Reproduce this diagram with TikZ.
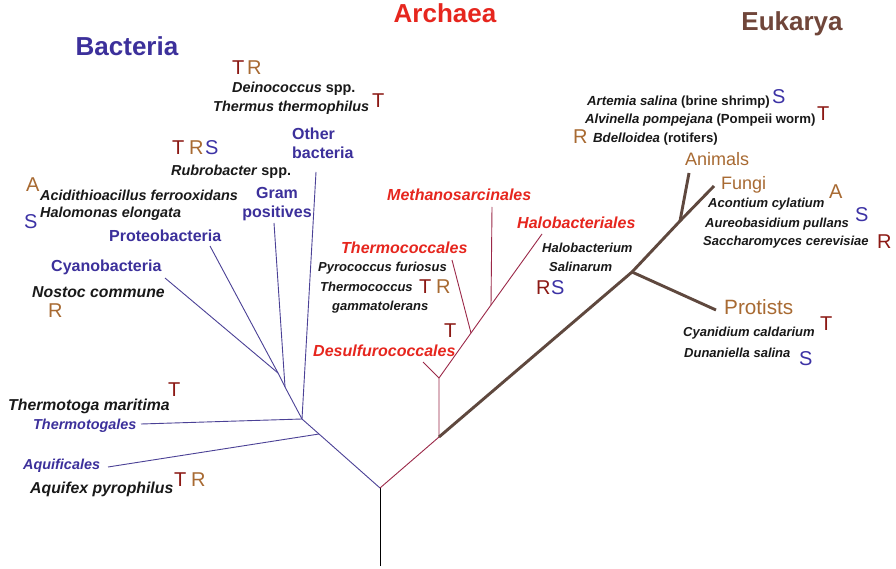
\documentclass[tikz,border=0pt]{standalone}
\usepackage{fontspec}
\setmainfont{Liberation Sans}
\definecolor{bacblue}{RGB}{60,48,155}
\definecolor{bacline}{RGB}{75,65,150}
\definecolor{arcred}{RGB}{230,38,30}
\definecolor{arcline}{RGB}{155,40,72}
\definecolor{euktitle}{RGB}{112,70,58}
\definecolor{eukline}{RGB}{95,72,62}
\definecolor{lbrown}{RGB}{168,106,50}
\definecolor{tred}{RGB}{140,25,20}
\definecolor{sblue}{RGB}{60,50,165}
\definecolor{spblack}{RGB}{25,25,25}
\begin{document}
\begin{tikzpicture}[x=1pt,y=-1pt,
  lab/.style={inner sep=0pt, anchor=base west},
  sp/.style={lab, font=\fontsize{14.4}{16}\selectfont\bfseries\itshape, text=spblack},
  spL/.style={lab, font=\fontsize{15.8}{18}\selectfont\bfseries\itshape, text=spblack},
  spS/.style={lab, font=\fontsize{13}{15}\selectfont\bfseries\itshape, text=spblack},
  spE/.style={lab, font=\fontsize{13.2}{15}\selectfont\bfseries\itshape, text=spblack},
  grp/.style={lab, font=\fontsize{16}{18}\selectfont\bfseries, text=bacblue},
  bord/.style={lab, font=\fontsize{14.4}{16}\selectfont\bfseries\itshape, text=bacblue},
  ord/.style={lab, font=\fontsize{16}{18}\selectfont\bfseries\itshape, text=arcred},
  egrp/.style={lab, text=lbrown},
  letter/.style={lab, font=\fontsize{20}{20}\selectfont},
  lt/.style={letter, text=tred},
  lr/.style={letter, text=lbrown},
  ls/.style={letter, text=sblue},
  title/.style={inner sep=0pt, anchor=base, font=\fontsize{26}{28}\selectfont\bfseries},
  bline/.style={draw=bacline, line width=0.9pt},
  aline/.style={draw=arcline, line width=0.9pt},
  eline/.style={draw=eukline, line width=2.9pt},
  tline/.style={draw=black, line width=1pt}]
\useasboundingbox (0,0) rectangle (896,569);
\fill[white] (0,0) rectangle (896,569);

% ---------- titles
\node[title, text=bacblue] (tBac) at (127,56) {Bacteria};
\node[title, text=arcred] (tArc) at (445,23) {Archaea};
\node[title, text=euktitle] (tEuk) at (792,31) {Eukarya};

% ---------- tree coordinates
\coordinate (root) at (380,488);
\coordinate (trunkbot) at (380,566);
\coordinate (bA) at (319,434);
\coordinate (bT) at (302,419);
\coordinate (bB) at (285,387);
\coordinate (cyJ) at (278,373);
\coordinate (aquiE) at (108,467);
\coordinate (thermoE) at (141,424);
\coordinate (otherE) at (316,172);
\coordinate (gramE) at (274,223);
\coordinate (proteoE) at (210,246);
\coordinate (cyanoE) at (165,278);
\coordinate (aR) at (439,437);
\coordinate (aS) at (439,378);
\coordinate (desulE) at (423,362);
\coordinate (tcJ) at (471,333);
\coordinate (tcE) at (452,260);
\coordinate (meJ) at (491,305);
\coordinate (meE) at (492,207);
\coordinate (haloE) at (542,234);
\coordinate (eP) at (632,272);
\coordinate (eF) at (680,221);
\coordinate (fungE) at (714,186);
\coordinate (animE) at (689,173);
\coordinate (protE) at (716,310);

% ---------- branches
\draw[tline] (trunkbot) -- (root);
\draw[bline] (root) -- (bA) -- (bT) -- (bB) -- (cyJ) -- (proteoE);
\draw[bline] (bA) -- (aquiE);
\draw[bline] (bT) -- (thermoE);
\draw[bline] (bT) -- (otherE);
\draw[bline] (bB) -- (gramE);
\draw[bline] (cyJ) -- (cyanoE);
\draw[aline] (root) -- (aR) -- (aS) -- (tcJ) -- (meJ) -- (haloE);
\draw[aline] (aS) -- (desulE);
\draw[aline] (tcJ) -- (tcE);
\draw[aline] (meJ) -- (meE);
\draw[eline] (aR) -- (eP) -- (eF) -- (fungE);
\draw[eline] (eP) -- (protE);
\draw[eline] (eF) -- (animE);

% ---------- bacteria labels
\node[lt] (l1t) at (232,75) {T};
\node[lr] (l1r) at (247,75) {R};
\node[sp] (deino) at (232,93) {Deinococcus\/ \upshape spp.};
\node[sp] (thermus) at (213,112) {Thermus thermophilus};
\node[lt] (l2t) at (372,108) {T};
\node[grp, font=\fontsize{16}{19}\selectfont\bfseries, anchor=north west, align=left] (other) at (292,127.5) {Other\\bacteria};
\node[lt] (l3t) at (172,155) {T};
\node[lr] (l3r) at (189,155) {R};
\node[ls] (l3s) at (205,155) {S};
\node[sp] (rubro) at (171,176) {Rubrobacter\/ \upshape spp.};
\node[lr] (l4a) at (26,192) {A};
\node[sp] (acidi) at (40,201) {Acidithioacillus ferrooxidans};
\node[sp] (halom) at (40,218) {Halomonas elongata};
\node[ls] (l5s) at (24,229) {S};
\node[grp, font=\fontsize{16}{19}\selectfont\bfseries, anchor=north, align=center] (gram) at (277,187.5) {Gram\\positives};
\node[grp] (proteo) at (109,242) {Proteobacteria};
\node[grp] (cyano) at (51,271) {Cyanobacteria};
\node[spL] (nostoc) at (32,297) {Nostoc commune};
\node[lr] (l6r) at (48,317) {R};
\node[lt] (l7t) at (168,396) {T};
\node[spL] (thermotoga) at (8,410) {Thermotoga maritima};
\node[bord] (thermotogales) at (33,429) {Thermotogales};
\node[bord] (aquificales) at (23,469) {Aquificales};
\node[spL] (aquifex) at (30,493) {Aquifex pyrophilus};
\node[lt] (l8t) at (174,486) {T};
\node[lr] (l8r) at (191,486) {R};

% ---------- archaea labels
\node[ord] (metha) at (387,201) {Methanosarcinales};
\node[ord] (thermoc) at (341,254) {Thermococcales};
\node[ord] (halob) at (517,229) {Halobacteriales};
\node[ord] (desul) at (313,356) {Desulfurococcales};
\node[spS] (pyro) at (318,272) {Pyrococcus furiosus};
\node[spS] (thcoc) at (320,291) {Thermococcus};
\node[spS] (gamma) at (332,310) {gammatolerans};
\node[lt] (l9t) at (419,293) {T};
\node[lr] (l9r) at (436,293) {R};
\node[lt] (l10t) at (444,337) {T};
\node[spS] (halobact) at (542,252) {Halobacterium};
\node[spS] (salin) at (549,271) {Salinarum};
\node[lt] (l11r) at (536,294) {R};
\node[ls] (l11s) at (551,294) {S};

% ---------- eukarya labels
\node[spE] (artemia) at (587,106) {Artemia salina\/ \upshape(brine shrimp)};
\node[ls] (l12s) at (772,104) {S};
\node[spE] (alvin) at (585,124) {Alvinella pompejana\/ \upshape(Pompeii worm)};
\node[lt] (l13t) at (817,121) {T};
\node[lr] (l14r) at (573,144) {R};
\node[spE] (bdel) at (593,143) {Bdelloidea\/ \upshape(rotifers)};
\node[egrp, font=\fontsize{18}{20}\selectfont] (animals) at (685,166) {Animals};
\node[egrp, font=\fontsize{18}{20}\selectfont] (fungi) at (721,190) {Fungi};
\node[lr] (l15a) at (829,199) {A};
\node[spS] (acont) at (708,208) {Acontium cylatium};
\node[ls] (l16s) at (855,222) {S};
\node[spS] (aureo) at (705,228) {Aureobasidium pullans};
\node[spS] (sacch) at (703,246) {Saccharomyces cerevisiae};
\node[lt] (l17r) at (877,248) {R};
\node[egrp, font=\fontsize{20.7}{22}\selectfont] (protists) at (724,314) {Protists};
\node[lt] (l18t) at (820,330) {T};
\node[spS] (cyanid) at (683,336) {Cyanidium caldarium};
\node[spS] (dunan) at (684,357) {Dunaniella salina};
\node[ls] (l19s) at (799,365) {S};
\end{tikzpicture}
\end{document}
